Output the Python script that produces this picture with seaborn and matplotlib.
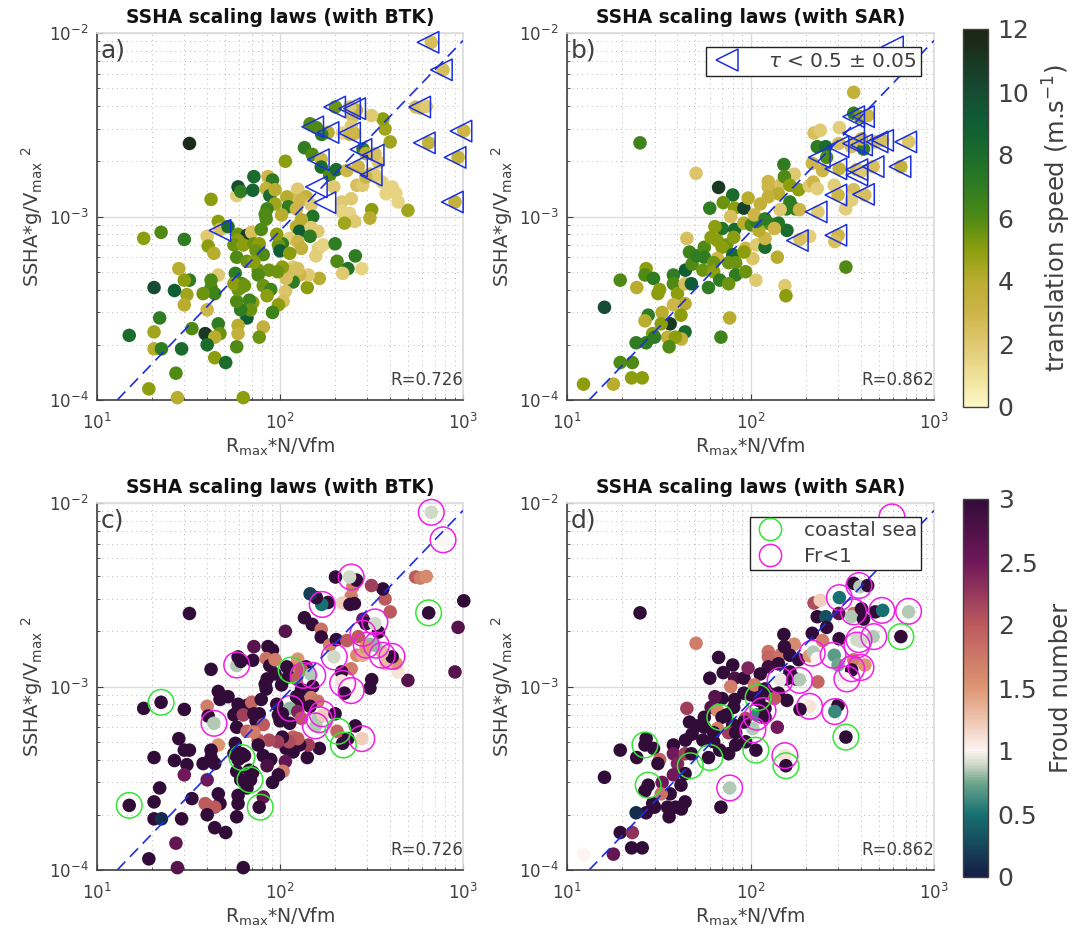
import numpy as np
import pandas as pd
import matplotlib
matplotlib.use("Agg")
import matplotlib.pyplot as plt
import seaborn as sns
from matplotlib.cm import ScalarMappable
from matplotlib.colors import LinearSegmentedColormap, Normalize
from matplotlib.lines import Line2D
from matplotlib.ticker import LogLocator, NullFormatter

# values, ssha in units of 1e-3
btk_x = [32, 671, 778, 551, 585, 630, 1010, 649, 940, 904, 500, 442,
         430, 380, 410, 362, 345, 400, 375, 365, 316, 250, 262, 240,
         201, 183, 245, 220, 241, 255, 169, 158, 146, 136, 150, 168,
         107, 168, 187, 203, 232, 284, 295, 330, 268, 310, 330, 263,
         283, 295, 245, 217, 217, 240, 256, 225, 317, 310, 197, 125,
         139, 118, 109, 111, 123, 131, 148, 151, 102, 131, 123, 128,
         148, 161, 146, 113, 125, 131, 162, 172, 157, 200, 205, 258,
         235, 220, 280, 164, 141, 143, 128, 118, 108, 118, 125, 112,
         103, 97, 87, 76, 76, 81, 89, 85, 107, 104, 98, 91,
         81, 77, 66, 71, 68, 69, 61, 58, 61, 59, 57, 62,
         56, 64, 46, 42, 42, 44, 38, 40, 32, 30, 28, 31,
         30, 26.5, 20.5, 22, 20.5, 15, 20.5, 22.5, 33, 29, 27, 19.2,
         27.5, 63, 18, 22.4, 30, 40, 40.5, 43.5, 42, 58, 59, 61,
         71, 72, 86, 91, 84, 88, 94, 94, 85, 83, 84, 46,
         47, 52, 59, 66, 70, 79, 59, 56, 63, 72, 77, 74,
         81, 58, 66, 72, 103, 98, 100, 96, 113, 46, 47, 40,
         39, 44, 40, 44, 50.5, 58, 59, 59]
btk_y = [2.5, 8.9, 6.3, 3.95, 3.9, 3.98, 2.93, 2.52, 2.1, 1.2, 1.08, 1.2,
         1.34, 1.33, 1.45, 1.54, 1.98, 2.55, 3.0, 3.4, 3.55, 3.5, 3.8, 3.95,
         3.95, 2.87, 3.1, 2.85, 2.8, 2.83, 2.8, 3.05, 3.2, 2.37, 2.18, 2.05,
         2.0, 1.86, 1.68, 1.8, 1.78, 2.33, 2.2, 2.2, 1.87, 1.7, 1.68, 1.48,
         1.48, 1.64, 1.25, 1.2, 1.07, 1.04, 0.94, 0.92, 1.09, 0.98, 1.45, 1.41,
         1.28, 1.23, 1.28, 1.13, 1.1, 1.23, 1.16, 1.0, 1.02, 0.96, 0.88, 0.83,
         0.87, 0.83, 0.78, 0.76, 0.73, 0.67, 0.67, 0.7, 0.61, 0.71, 0.57, 0.61,
         0.52, 0.49, 0.52, 0.46, 0.41, 0.48, 0.48, 0.44, 0.46, 0.53, 0.52, 0.5,
         0.53, 0.5, 0.51, 0.51, 0.48, 0.42, 0.4, 0.37, 0.39, 0.345, 0.33, 0.3,
         0.25, 0.22, 0.28, 0.34, 0.35, 0.31, 0.31, 0.345, 0.41, 0.4, 0.49, 0.43,
         0.43, 0.42, 0.48, 0.45, 0.41, 0.38, 0.38, 0.31, 0.45, 0.45, 0.52, 0.375,
         0.33, 0.395, 0.41, 0.28, 0.235, 0.225, 0.19, 0.19, 0.245, 0.19, 0.14, 0.115,
         0.103, 0.103, 0.76, 0.82, 0.75, 0.78, 0.69, 0.63, 1.24, 1.3, 1.45, 1.37,
         1.39, 1.65, 1.65, 1.58, 1.42, 1.3, 1.4, 1.17, 1.1, 1.03, 0.97, 0.94,
         0.85, 0.88, 0.8, 0.79, 0.82, 0.85, 0.74, 0.7, 0.7, 0.71, 0.71, 0.65,
         0.62, 0.6, 0.57, 0.565, 0.71, 0.7, 0.65, 0.8, 0.63, 0.26, 0.23, 0.225,
         0.23, 0.22, 0.2, 0.17, 0.16, 0.195, 0.255, 0.23]
btk_speed = [11.5, 2.5, 2.5, 2.5, 2.5, 2, 3, 3.5, 3.5, 3.5, 4.5, 1.5,
             1.5, 1.5, 1.5, 1.5, 2, 4.5, 4.5, 5, 2, 2.5, 3.5, 2,
             5.5, 4, 2, 1.5, 3, 3, 7, 6, 6, 7, 6, 3,
             5, 8, 6, 8, 3, 7, 4, 2.5, 3, 2.5, 2, 2.5,
             2, 3, 2, 2, 1.5, 1.5, 2, 4.5, 5, 4, 2, 2,
             3.5, 2.5, 4, 7, 3, 3, 2, 7.5, 4, 4, 4, 9,
             2, 2, 7, 1.8, 3, 3.5, 1.8, 1.5, 1.8, 7, 6, 7,
             7.5, 2, 1.5, 4, 5, 2, 3, 7, 2.5, 2, 2.5, 2.5,
             5, 5.5, 5.5, 5.5, 6, 5.5, 6.5, 5, 2.2, 2.5, 5, 6.5,
             3.5, 5.5, 9, 5, 6.5, 5.5, 7, 6, 5.5, 5.5, 7, 6,
             5, 5.5, 2, 6, 6, 6.5, 5.5, 3, 7, 5, 4, 4.5,
             4, 9, 10, 7, 4.5, 8, 4, 7, 6, 8, 6, 5,
             4, 5, 5, 6, 7, 2, 5, 4, 5, 1.8, 10, 7,
             8.5, 8, 3, 7, 3.5, 8, 4, 4.5, 6.5, 6, 6, 5,
             2.5, 8, 5.5, 11, 2.5, 6, 5, 5.5, 5, 5.5, 5, 5.5,
             6, 6, 5.5, 5, 7, 5.5, 9, 5, 5, 7, 5.5, 6,
             11, 4, 8, 5, 8, 6, 4, 3.5]
btk_froud = [3, 0.9, 1, 2, 1.7, 1.6, 3, 3, 2.7, 2.7, 2.7, 1.1,
             1.5, 1.3, 3, 1.3, 3, 2, 2, 3, 2.2, 1.7, 3, 0.9,
             3, 3, 1.7, 1.2, 3, 3, 0.5, 3, 0.2, 3, 3, 1.8,
             2.7, 3, 1.7, 3, 2, 2.5, 3, 0.9, 2, 0.8, 0.8, 1.6,
             1.4, 1.5, 1.7, 3, 1.1, 1, 1, 3, 3, 3, 0.9, 1.5,
             3, 1.7, 3, 3, 2, 2, 0.85, 3, 3, 3, 3, 3,
             1.7, 1.8, 3, 0.8, 2.4, 2, 0.85, 1.2, 0.85, 3, 1.9, 3,
             3, 3, 1.2, 3, 3, 2.2, 3, 3, 3, 1.9, 2, 2.1,
             3, 2.2, 2.1, 2, 3, 3, 3, 2.8, 2.6, 1.7, 3, 3,
             2.6, 3, 3, 3, 3, 3, 3, 3, 3, 3, 3, 3,
             3, 3, 1.5, 3, 3, 3, 3, 2.5, 3, 3, 3, 3,
             2.5, 3, 3, 3, 3, 3, 3, 0.1, 3, 3, 2.6, 3,
             2.7, 3, 3, 3, 3, 1.7, 3, 0.85, 3, 0.85, 3, 3,
             3, 2.7, 3, 3, 1.8, 3, 1.7, 3, 3, 3, 3, 3,
             3, 3, 3, 3, 1.9, 3, 3, 3, 2.2, 3, 3, 3,
             2, 3, 1.9, 1.7, 3, 3, 3, 3, 3, 3, 3, 1.8,
             2, 2, 3, 3, 3, 3, 3, 3]

sar_x = [25, 50.5, 67, 80, 71, 60, 82, 92, 78, 97, 152, 173,
         125, 125, 147, 153, 164, 183, 142, 125, 113, 164, 176, 157,
         145, 185, 233, 209, 220, 231, 217, 247, 231, 257, 260, 222,
         240, 305, 303, 365, 365, 395, 435, 365, 355, 413, 403, 478,
         525, 727, 466, 660, 380, 400, 304, 286, 300, 365, 420, 356,
         330, 300, 288, 210, 186, 331, 158, 140, 107, 154, 156, 77,
         69, 16, 19.5, 24, 27, 26.6, 29.6, 32, 31.3, 38, 38, 40,
         44.2, 44, 44, 47.6, 48, 46.5, 51, 56, 56, 45, 61, 70,
         64, 82, 92, 66, 74, 70, 81, 80, 66, 76, 83, 63,
         55, 63, 68, 59, 83, 76, 94, 103, 94, 92, 108, 120,
         120, 101, 111, 108, 105, 128, 142, 120, 135, 27.7, 26.6, 33,
         38, 41.8, 36.5, 32.6, 29.3, 44, 42, 35.3, 39, 36, 30, 27,
         23.8, 19.5, 22.7, 22.5, 25.7, 17.9, 12.3]
sar_y = [2.52, 1.72, 1.44, 1.31, 1.19, 1.11, 1.11, 1.11, 1.0, 1.26, 1.92, 1.7,
         1.55, 1.45, 1.5, 1.65, 1.48, 1.4, 1.33, 1.28, 1.17, 1.2, 1.1, 1.1,
         1.09, 1.09, 1.06, 1.47, 1.54, 1.42, 1.95, 1.78, 2.4, 2.4, 2.1, 2.85,
         2.95, 3.05, 2.5, 4.75, 3.65, 3.5, 3.55, 2.5, 2.4, 2.33, 2.65, 2.55,
         2.6, 2.55, 1.87, 1.87, 1.8, 1.76, 1.82, 1.48, 1.31, 1.4, 1.31, 1.23,
         1.1, 0.79, 0.73, 0.78, 0.75, 0.53, 0.84, 0.6, 0.45, 0.42, 0.37, 0.28,
         0.22, 0.32, 0.45, 0.41, 0.52, 0.48, 0.46, 0.4, 0.38, 0.48, 0.43, 0.38,
         0.51, 0.43, 0.335, 0.43, 0.55, 0.64, 0.61, 0.68, 0.6, 0.76, 0.77, 0.86,
         0.88, 0.85, 0.92, 0.74, 0.7, 0.68, 0.77, 0.62, 0.59, 0.56, 0.56, 0.56,
         0.51, 0.5, 0.45, 0.41, 0.48, 0.43, 0.5, 0.59, 0.67, 0.64, 0.7, 0.68,
         0.76, 0.9, 0.84, 0.94, 1.02, 0.91, 0.92, 0.97, 0.86, 0.29, 0.27, 0.3,
         0.33, 0.29, 0.26, 0.26, 0.23, 0.235, 0.215, 0.22, 0.22, 0.195, 0.22, 0.205,
         0.205, 0.16, 0.16, 0.132, 0.132, 0.122, 0.122]
sar_speed = [6.5, 2.2, 11, 8, 5.5, 7, 5, 10.5, 2.5, 4, 7, 2,
             3, 3, 2.5, 6, 5, 5, 4, 3.5, 3.5, 7, 7, 7,
             2, 3, 2, 2, 3, 1.8, 3, 3, 7, 8, 6, 2.5,
             2, 1.8, 2.5, 3.5, 7, 5, 3, 3, 2.5, 7, 3, 2.5,
             2.5, 2.2, 2.5, 3.5, 3, 2, 3.5, 1.8, 3, 2.5, 2.5, 1.8,
             1.8, 3, 2.5, 1.8, 2.5, 6, 8, 4, 2, 2, 5, 4,
             6.5, 10, 6, 4, 5, 6, 7, 5, 5, 7, 6, 5,
             9, 2.5, 4, 9, 6, 6.5, 7, 6, 7, 2.5, 5, 7.5,
             5, 8, 4, 5, 5.5, 5, 5, 8, 3, 5.5, 5.5, 5.5,
             5.5, 5, 7, 7, 7, 5.5, 5.5, 2.2, 3, 5, 2, 8,
             3, 6, 4, 7, 3, 6, 7.5, 7, 3, 7, 4, 4,
             3, 5, 11, 5, 5, 8, 3.5, 3.5, 5, 6, 7, 7,
             7, 6, 6, 5, 5, 4, 5]
sar_froud = [3, 1.7, 3, 3, 3, 3, 2.8, 3, 1.7, 2.4, 3, 1.6,
             1.8, 1.9, 1.8, 3, 3, 3, 3, 2.9, 3, 3, 3, 3,
             0.95, 0.85, 1.9, 1.5, 0.85, 1, 3, 1.7, 3, 0.3, 3, 2.1,
             1.2, 0.5, 2.7, 0.85, 3, 0.85, 3, 1.8, 0.85, 3, 3, 3,
             0.5, 0.85, 0.85, 3, 0.9, 0.9, 3, 0.7, 0.75, 1.7, 1.5, 3,
             1, 3, 0.6, 1.1, 3, 3, 3, 2.5, 3, 1.1, 3, 0.85,
             3, 3, 3, 3, 3, 3, 3, 1.9, 3, 3, 2.5, 2.4,
             3, 2.2, 3, 3, 3, 3, 3, 3, 3, 2.2, 2.7, 3,
             2.7, 3, 3, 1.6, 3, 3, 3, 3, 1.7, 2.2, 3, 3,
             3, 3, 3, 3, 3, 3, 3, 0.85, 2.1, 3, 0.6, 3,
             3, 3, 3, 3, 1.7, 3, 3, 3, 2, 3, 3, 2.5,
             2.5, 3, 3, 1.8, 3, 3, 3, 3, 3, 3, 3, 3,
             0.1, 3, 2.3, 3, 3, 2.6, 1]

btk_tau_x = [644, 762, 580, 199, 240, 256, 151, 183, 240, 277, 323, 615, 975, 905, 875, 162, 47, 158, 176, 262, 315]
btk_tau_y = [8.9, 6.3, 3.95, 3.95, 3.87, 3.87, 3.08, 2.87, 2.85, 2.32, 2.16, 2.52, 2.92, 2.1, 1.2, 2.04, 0.84, 1.45, 1.19, 1.88, 1.68]
sar_tau_x = [594, 702, 653, 525, 466, 413, 365, 365, 300, 403, 490, 237, 292, 380, 380, 292, 413, 228, 180, 292, 365]
sar_tau_y = [8.4, 2.55, 1.87, 2.6, 1.87, 3.5, 3.5, 2.5, 2.4, 2.45, 2.55, 2.1, 1.82, 1.8, 1.68, 1.31, 1.32, 1.06, 0.74, 0.79, 2.85]

btk_fr_x = [671, 778, 245, 170, 330, 284, 336, 296, 362, 409, 198, 58, 134, 151, 220, 245, 114, 170, 164, 156, 43.6, 280]
btk_fr_y = [8.9, 6.3, 3.95, 2.8, 2.25, 1.95, 1.68, 1.68, 1.48, 1.46, 1.45, 1.31, 1.15, 1.15, 1.04, 0.95, 0.76, 0.71, 0.66, 0.61, 0.63, 0.52]
btk_coast_x = [649, 115, 22.4, 207, 222, 62, 68.5, 15, 78]
btk_coast_y = [2.52, 1.23, 0.82, 0.57, 0.48, 0.41, 0.31, 0.225, 0.22]
sar_fr_x = [590, 727, 520, 470, 390, 305, 365, 390, 380, 282, 217, 335, 356, 400, 145, 185, 210, 288, 117, 108, 103, 154, 77]
sar_fr_y = [8.4, 2.57, 2.6, 1.87, 3.55, 3.05, 2.55, 1.8, 1.68, 1.48, 1.52, 1.1, 1.25, 1.27, 1.08, 1.08, 0.78, 0.73, 0.74, 0.68, 0.58, 0.42, 0.28]
sar_coast_x = [660, 331, 156, 107, 110, 68, 26.6, 60, 47, 27.7]
sar_coast_y = [1.87, 0.53, 0.37, 0.45, 0.87, 0.68, 0.48, 0.41, 0.37, 0.29]

btk_fit_x = [12.9, 1000]
sar_fit_x = [13.2, 1000]
fit_y = [0.1, 9.1]

btk = pd.DataFrame({"x": btk_x, "y": np.array(btk_y) * 1e-3, "speed": btk_speed, "froud": btk_froud})
sar = pd.DataFrame({"x": sar_x, "y": np.array(sar_y) * 1e-3, "speed": sar_speed, "froud": sar_froud})

speed_cmap = LinearSegmentedColormap.from_list("speed", [
    (0.0, "#fdf8c8"), (1 / 12, "#efe096"), (2 / 12, "#dfc870"), (3 / 12, "#cdb548"),
    (4 / 12, "#b9ad30"), (5 / 12, "#8b9e0e"), (6 / 12, "#4f8a14"), (7 / 12, "#2f7c22"),
    (8 / 12, "#1b6c2c"), (9 / 12, "#0f5e34"), (10 / 12, "#164c33"), (1.0, "#1c2412")])
froud_cmap = LinearSegmentedColormap.from_list("froud", [
    (0.0, "#151d44"), (0.5 / 3, "#177272"), (0.75 / 3, "#6fa68c"), (0.9 / 3, "#d5dccb"),
    (1 / 3, "#fdf5f4"), (1.25 / 3, "#eec4ae"), (1.5 / 3, "#dd9672"), (2 / 3, "#bd5a5e"),
    (2.5 / 3, "#70185a"), (1.0, "#320c38")])

sns.set_theme(style="white")
grey = "#404040"
blue = "#1a2fe0"
W, H = 1087, 934


def make_axes(left, top, right, bottom):
    ax = fig.add_axes([left / W, 1 - bottom / H, (right - left) / W, (bottom - top) / H])
    ax.set_xscale("log")
    ax.set_yscale("log")
    ax.set_xlim(10, 1000)
    ax.set_ylim(1e-4, 1e-2)
    ax.xaxis.set_major_locator(LogLocator(10, numticks=5))
    ax.yaxis.set_major_locator(LogLocator(10, numticks=5))
    ax.xaxis.set_minor_locator(LogLocator(10, subs=np.arange(2, 10), numticks=5))
    ax.yaxis.set_minor_locator(LogLocator(10, subs=np.arange(2, 10), numticks=5))
    ax.xaxis.set_minor_formatter(NullFormatter())
    ax.yaxis.set_minor_formatter(NullFormatter())
    ax.grid(True, which="major", color="#dcdcdc", lw=1)
    ax.grid(True, which="minor", color="#b8b8b8", lw=0.7, ls=(0, (1, 4)))
    ax.set_axisbelow(True)
    ax.tick_params(which="major", direction="in", length=4, width=0.8, color=grey,
                   labelcolor=grey, labelsize=12, bottom=True, left=True)
    ax.tick_params(axis="x", which="major", pad=9)
    ax.tick_params(axis="y", which="major", pad=6)
    ax.tick_params(which="minor", direction="in", length=2, width=0.6, color=grey,
                   bottom=True, left=True)
    for side in ["left", "bottom"]:
        ax.spines[side].set_color(grey)
        ax.spines[side].set_linewidth(1.2)
    for side in ["top", "right"]:
        ax.spines[side].set_color("#dcdcdc")
    return ax


def draw_points(ax, data, hue, cmap, norm):
    sns.scatterplot(data=data, x="x", y="y", hue=hue, palette=cmap, hue_norm=norm,
                    s=95, linewidth=0, legend=False, clip_on=False, zorder=3, ax=ax)


def draw_rings(ax, xs, ys, color, marker="o", size=340):
    sns.scatterplot(x=xs, y=np.array(ys) * 1e-3, marker=marker, s=size, color="none",
                    edgecolor=color, linewidth=1.1, legend=False, clip_on=False, zorder=4, ax=ax)


def finish(ax, title, letter, r_text, fit_x):
    ax.plot(fit_x, np.array(fit_y) * 1e-3, color=blue, lw=1.2, ls=(0, (7, 4)), zorder=5)
    ax.set_title(title, fontsize=13.4, fontweight="bold", color="#111111", pad=7)
    ax.set_xlabel(r"R$_{\mathregular{max}}$*N/Vfm", fontsize=13.5, color=grey, labelpad=2)
    ax.set_ylabel(r"SSHA*g/V$_{\mathregular{max}}$ $^{2}$", fontsize=14, color=grey)
    ax.yaxis.set_label_coords(-0.141, 0.5)
    ax.text(0.01, 0.985, letter, transform=ax.transAxes, ha="left", va="top",
            fontsize=18, color=grey, zorder=6)
    ax.text(1.0, 0.054, r_text, transform=ax.transAxes, ha="right", va="center",
            fontsize=12, color=grey, zorder=6)


def add_colorbar(top, bottom, cmap, norm, ticks, ticklabels, label):
    cax = fig.add_axes([963 / W, 1 - bottom / H, 25 / W, (bottom - top) / H])
    cb = fig.colorbar(ScalarMappable(norm=norm, cmap=cmap), cax=cax)
    cb.set_ticks(ticks)
    cb.set_ticklabels(ticklabels)
    cax.tick_params(direction="in", length=3, width=0.8, color=grey, labelcolor=grey,
                    labelsize=18, pad=7, right=True)
    cb.outline.set_edgecolor(grey)
    cb.outline.set_linewidth(1)
    cb.set_label(label, fontsize=17.5, color=grey, labelpad=8)


fig = plt.figure(figsize=(W / 100, H / 100), dpi=100)

speed_norm = (0, 12)
froud_norm = (0, 3)

# a) speed, best track
ax_a = make_axes(97, 33, 463, 400)
draw_points(ax_a, btk, "speed", speed_cmap, speed_norm)
draw_rings(ax_a, btk_tau_x, btk_tau_y, blue, marker="<", size=240)
finish(ax_a, "SSHA scaling laws (with BTK)", "a)", "R=0.726", btk_fit_x)

# b) speed, SAR
ax_b = make_axes(567, 33, 934, 400)
draw_points(ax_b, sar, "speed", speed_cmap, speed_norm)
draw_rings(ax_b, sar_tau_x, sar_tau_y, blue, marker="<", size=240)
finish(ax_b, "SSHA scaling laws (with SAR)", "b)", "R=0.862", sar_fit_x)
tau_handle = Line2D([], [], marker="<", ls="none", ms=16, mfc="none", mec=blue, mew=1.1)
leg_b = ax_b.legend([tau_handle], [r"$\tau$ < 0.5 $\pm$ 0.05"], loc="upper right",
                    bbox_to_anchor=(0.965, 0.962), borderaxespad=0, fontsize=14.5, fancybox=False,
                    framealpha=1, edgecolor="#222222", borderpad=0.25, handlelength=1.6,
                    handletextpad=1.2, labelcolor=grey)
leg_b.set_zorder(10)

# c) Froud, best track
ax_c = make_axes(97, 503, 463, 870)
draw_points(ax_c, btk, "froud", froud_cmap, froud_norm)
draw_rings(ax_c, btk_fr_x, btk_fr_y, "#f01ee6")
draw_rings(ax_c, btk_coast_x, btk_coast_y, "#33e633")
finish(ax_c, "SSHA scaling laws (with BTK)", "c)", "R=0.726", btk_fit_x)

# d) Froud, SAR
ax_d = make_axes(567, 503, 934, 870)
draw_points(ax_d, sar, "froud", froud_cmap, froud_norm)
draw_rings(ax_d, sar_fr_x, sar_fr_y, "#f01ee6")
draw_rings(ax_d, sar_coast_x, sar_coast_y, "#33e633")
finish(ax_d, "SSHA scaling laws (with SAR)", "d)", "R=0.862", sar_fit_x)
coast_handle = Line2D([], [], marker="o", ls="none", ms=16, mfc="none", mec="#33e633", mew=1.1)
fr_handle = Line2D([], [], marker="o", ls="none", ms=16, mfc="none", mec="#f01ee6", mew=1.1)
leg_d = ax_d.legend([coast_handle, fr_handle], ["coastal sea", "Fr<1"], loc="upper right",
                    bbox_to_anchor=(0.965, 0.962), borderaxespad=0, fontsize=14.4, fancybox=False,
                    framealpha=1, edgecolor="#222222", borderpad=0.2, handlelength=1.6,
                    handletextpad=0.9, labelspacing=0.35, labelcolor=grey)
leg_d.set_zorder(10)

add_colorbar(29, 407, speed_cmap, Normalize(*speed_norm), [0, 2, 4, 6, 8, 10, 12],
             ["0", "2", "4", "6", "8", "10", "12"], r"translation speed (m.s$^{-1}$)")
add_colorbar(499, 877, froud_cmap, Normalize(*froud_norm), [0, 0.5, 1, 1.5, 2, 2.5, 3],
             ["0", "0.5", "1", "1.5", "2", "2.5", "3"], "Froud number")

fig.savefig("out.png", dpi=100)
